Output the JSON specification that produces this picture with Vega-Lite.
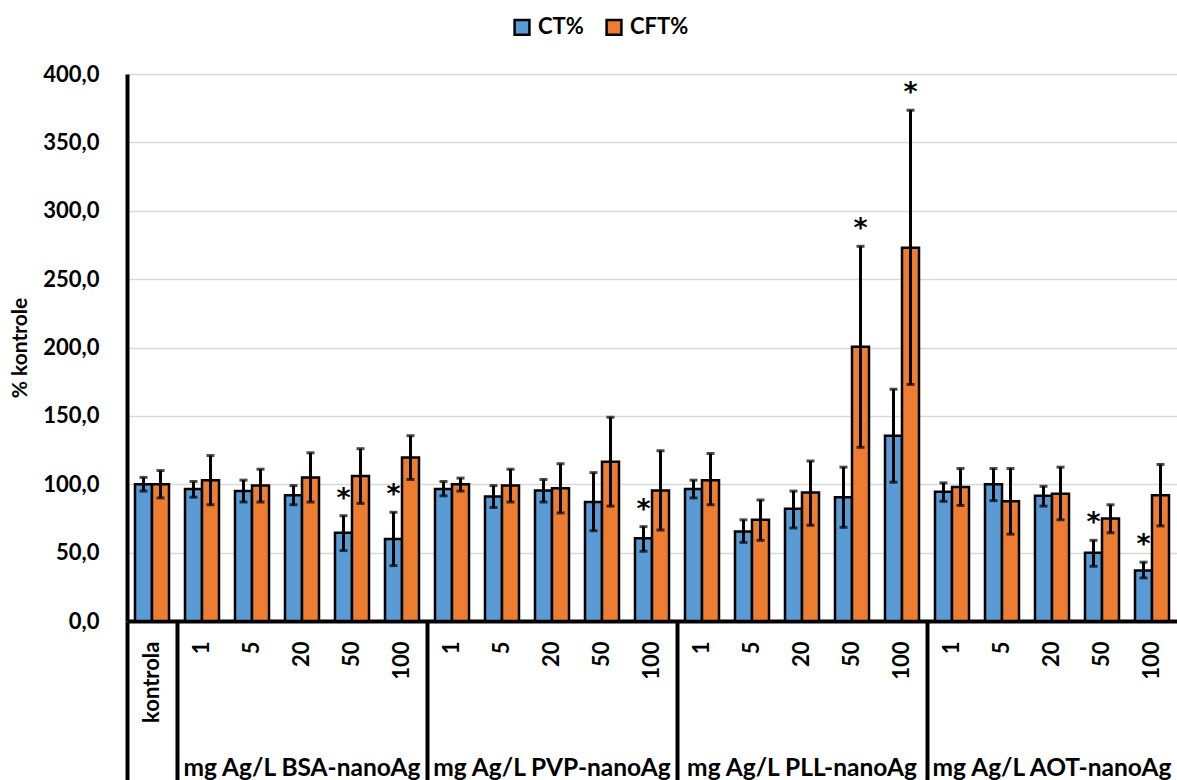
{
  "$schema": "https://vega.github.io/schema/vega-lite/v6.json",
  "autosize": {"type": "none"},
  "padding": {"left": 127, "top": 74, "right": 0, "bottom": 159},
  "width": 1050,
  "height": 547,
  "background": "white",
  "config": {"font": "Lato", "view": {"stroke": null}},
  "data": {"values": [
    {"cat": "kontrola", "s": "CT%", "v": 100, "lo": 95, "hi": 105, "star": false},
    {"cat": "kontrola", "s": "CFT%", "v": 100, "lo": 90, "hi": 110, "star": false},
    {"cat": "BSA|1", "s": "CT%", "v": 96.5, "lo": 90.5, "hi": 102, "star": false},
    {"cat": "BSA|1", "s": "CFT%", "v": 103, "lo": 85, "hi": 121, "star": false},
    {"cat": "BSA|5", "s": "CT%", "v": 95, "lo": 87, "hi": 103, "star": false},
    {"cat": "BSA|5", "s": "CFT%", "v": 99, "lo": 87, "hi": 111, "star": false},
    {"cat": "BSA|20", "s": "CT%", "v": 92, "lo": 85, "hi": 99, "star": false},
    {"cat": "BSA|20", "s": "CFT%", "v": 105, "lo": 87, "hi": 123, "star": false},
    {"cat": "BSA|50", "s": "CT%", "v": 64.5, "lo": 51.5, "hi": 77, "star": true},
    {"cat": "BSA|50", "s": "CFT%", "v": 106, "lo": 86, "hi": 126, "star": false},
    {"cat": "BSA|100", "s": "CT%", "v": 60, "lo": 40.5, "hi": 79.5, "star": true},
    {"cat": "BSA|100", "s": "CFT%", "v": 119.5, "lo": 103.5, "hi": 135.5, "star": false},
    {"cat": "PVP|1", "s": "CT%", "v": 96.5, "lo": 91.5, "hi": 102, "star": false},
    {"cat": "PVP|1", "s": "CFT%", "v": 100, "lo": 95, "hi": 104.5, "star": false},
    {"cat": "PVP|5", "s": "CT%", "v": 91, "lo": 83, "hi": 99, "star": false},
    {"cat": "PVP|5", "s": "CFT%", "v": 99, "lo": 87, "hi": 111, "star": false},
    {"cat": "PVP|20", "s": "CT%", "v": 95.5, "lo": 87, "hi": 103.5, "star": false},
    {"cat": "PVP|20", "s": "CFT%", "v": 97, "lo": 79, "hi": 115, "star": false},
    {"cat": "PVP|50", "s": "CT%", "v": 87, "lo": 66, "hi": 108.5, "star": false},
    {"cat": "PVP|50", "s": "CFT%", "v": 116.5, "lo": 84, "hi": 149, "star": false},
    {"cat": "PVP|100", "s": "CT%", "v": 60.5, "lo": 51, "hi": 69, "star": true},
    {"cat": "PVP|100", "s": "CFT%", "v": 95.5, "lo": 66.5, "hi": 124.5, "star": false},
    {"cat": "PLL|1", "s": "CT%", "v": 96.5, "lo": 90, "hi": 103, "star": false},
    {"cat": "PLL|1", "s": "CFT%", "v": 103, "lo": 85, "hi": 122.5, "star": false},
    {"cat": "PLL|5", "s": "CT%", "v": 65.5, "lo": 57.5, "hi": 74, "star": false},
    {"cat": "PLL|5", "s": "CFT%", "v": 74, "lo": 59, "hi": 88.5, "star": false},
    {"cat": "PLL|20", "s": "CT%", "v": 82, "lo": 68, "hi": 95, "star": false},
    {"cat": "PLL|20", "s": "CFT%", "v": 94, "lo": 70, "hi": 117, "star": false},
    {"cat": "PLL|50", "s": "CT%", "v": 90.5, "lo": 68.5, "hi": 112.5, "star": false},
    {"cat": "PLL|50", "s": "CFT%", "v": 200.5, "lo": 127, "hi": 274, "star": true},
    {"cat": "PLL|100", "s": "CT%", "v": 135.5, "lo": 101.5, "hi": 169.5, "star": false},
    {"cat": "PLL|100", "s": "CFT%", "v": 273, "lo": 173, "hi": 373.5, "star": true},
    {"cat": "AOT|1", "s": "CT%", "v": 94.5, "lo": 87.5, "hi": 101, "star": false},
    {"cat": "AOT|1", "s": "CFT%", "v": 98, "lo": 84.5, "hi": 111.5, "star": false},
    {"cat": "AOT|5", "s": "CT%", "v": 100, "lo": 88, "hi": 111.5, "star": false},
    {"cat": "AOT|5", "s": "CFT%", "v": 87.5, "lo": 63.5, "hi": 111.5, "star": false},
    {"cat": "AOT|20", "s": "CT%", "v": 91.5, "lo": 84, "hi": 98.5, "star": false},
    {"cat": "AOT|20", "s": "CFT%", "v": 93, "lo": 74, "hi": 112.5, "star": false},
    {"cat": "AOT|50", "s": "CT%", "v": 50, "lo": 40, "hi": 59, "star": true},
    {"cat": "AOT|50", "s": "CFT%", "v": 75, "lo": 64.5, "hi": 85, "star": false},
    {"cat": "AOT|100", "s": "CT%", "v": 37, "lo": 31.5, "hi": 43, "star": true},
    {"cat": "AOT|100", "s": "CFT%", "v": 92, "lo": 69.5, "hi": 114.5, "star": false}
  ]},
  "resolve": {"axis": {"x": "independent"}},
  "layer": [
    {
      "mark": {"type": "bar", "stroke": "black", "strokeWidth": 2.5},
      "encoding": {
        "x": {"field": "cat", "type": "nominal", "sort": null,
          "scale": {"paddingInner": 0, "paddingOuter": 0},
          "axis": {"orient": "bottom", "title": null, "domain": true, "domainColor": "black", "domainWidth": 4,
            "ticks": false, "labelAngle": -90, "labelAlign": "right", "labelBaseline": "middle", "labelPadding": 20,
            "labelFont": "Lato", "labelFontWeight": "bold", "labelFontSize": 22, "labelColor": "black",
            "labelOverlap": false,
            "labelExpr": "datum.value == 'kontrola' ? 'kontrola' : split(datum.value, '|')[1]"}},
        "xOffset": {"field": "s", "type": "nominal", "sort": ["CT%", "CFT%"],
          "scale": {"paddingInner": 0, "paddingOuter": 0.47}},
        "y": {"field": "v", "type": "quantitative",
          "scale": {"domain": [0, 400], "nice": false},
          "axis": {"title": "% kontrole", "values": [0, 50, 100, 150, 200, 250, 300, 350, 400],
            "labelExpr": "replace(format(datum.value, '.1f'), '.', ',')",
            "domain": true, "domainColor": "black", "domainWidth": 4, "ticks": false,
            "grid": true, "gridColor": "#d9d9d9", "gridWidth": 1.5,
            "labelFont": "Lato", "labelFontWeight": "bold", "labelFontSize": 22, "labelColor": "black", "labelPadding": 28,
            "titleFont": "Lato", "titleFontWeight": "bold", "titleFontSize": 21, "titleColor": "black", "titlePadding": 12}},
        "color": {"field": "s", "type": "nominal",
          "scale": {"domain": ["CT%", "CFT%"], "range": ["#5B9BD5", "#ED7D31"]},
          "legend": {"title": null, "orient": "none", "direction": "horizontal", "legendX": 384, "legendY": -58,
            "symbolType": "square", "symbolSize": 220, "symbolStrokeColor": "black", "symbolStrokeWidth": 2.5,
            "symbolOpacity": 1,
            "labelFont": "Lato", "labelFontWeight": "bold", "labelFontSize": 22, "labelColor": "black",
            "labelOffset": 5, "columnPadding": 17, "padding": 0}}
      }
    },
    {
      "mark": {"type": "rule", "color": "black", "strokeWidth": 3},
      "encoding": {
        "x": {"field": "cat", "type": "nominal", "sort": null,
          "axis": {"orient": "bottom", "title": null, "domain": false, "bandPosition": 0,
            "ticks": true, "tickSize": 159, "tickWidth": 4, "tickColor": "black",
            "tickOpacity": {"condition": {"test": "indexof(['kontrola', 'BSA|1', 'PVP|1', 'PLL|1', 'AOT|1'], datum.value) >= 0", "value": 1}, "value": 0},
            "labelAngle": 0, "labelAlign": "center", "labelBaseline": "alphabetic", "labelPadding": -5, "labelOffset": 100,
            "labelFont": "Lato", "labelFontWeight": "bold", "labelFontSize": 24.5, "labelColor": "black",
            "labelOverlap": false, "labelBound": false, "labelLimit": 400,
            "labelExpr": "datum.value == 'BSA|1' ? 'mg Ag/L BSA-nanoAg' : datum.value == 'PVP|1' ? 'mg Ag/L PVP-nanoAg' : datum.value == 'PLL|1' ? 'mg Ag/L PLL-nanoAg' : datum.value == 'AOT|1' ? 'mg Ag/L AOT-nanoAg' : ''"}},
        "xOffset": {"field": "s", "type": "nominal", "sort": ["CT%", "CFT%"]},
        "y": {"field": "lo", "type": "quantitative"},
        "y2": {"field": "hi"}
      }
    },
    {
      "mark": {"type": "tick", "color": "black", "thickness": 3, "size": 8, "orient": "horizontal"},
      "encoding": {
        "x": {"field": "cat", "type": "nominal", "sort": null, "axis": null},
        "xOffset": {"field": "s", "type": "nominal", "sort": ["CT%", "CFT%"]},
        "y": {"field": "hi", "type": "quantitative"}
      }
    },
    {
      "mark": {"type": "tick", "color": "black", "thickness": 3, "size": 8, "orient": "horizontal"},
      "encoding": {
        "x": {"field": "cat", "type": "nominal", "sort": null, "axis": null},
        "xOffset": {"field": "s", "type": "nominal", "sort": ["CT%", "CFT%"]},
        "y": {"field": "lo", "type": "quantitative"}
      }
    },
    {
      "transform": [{"filter": "datum.star"}],
      "mark": {"type": "text", "text": "*", "font": "DejaVu Sans", "fontWeight": "bold", "fontSize": 27, "color": "black",
        "baseline": "alphabetic", "dy": -9},
      "encoding": {
        "x": {"field": "cat", "type": "nominal", "sort": null, "axis": null},
        "xOffset": {"field": "s", "type": "nominal", "sort": ["CT%", "CFT%"]},
        "y": {"field": "hi", "type": "quantitative"}
      }
    }
  ]
}
